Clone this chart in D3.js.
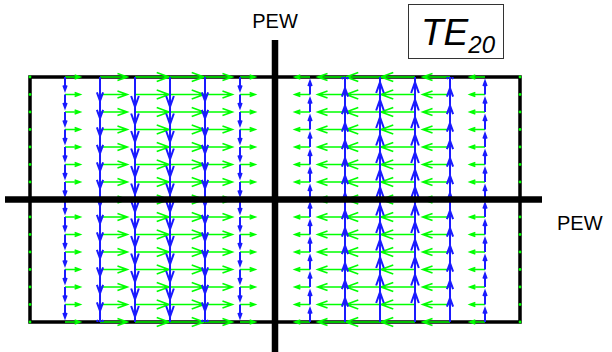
<!DOCTYPE html>
<html>
<head>
<meta charset="utf-8">
<script src="https://cdn.jsdelivr.net/npm/d3@7"></script>
<style>
  html, body { margin: 0; padding: 0; background: #fff; }
  svg { display: block; font-family: "Liberation Sans", Arial, sans-serif; }
</style>
</head>
<body>
<div id="chart"></div>
<script>
// sample grid across the guide (column index, row index)
const gridCols = [0, 1, 2, 3, 4, 5, 6, 7, 8, 9, 10, 11, 12, 13, 14];
const gridRows = [0, 1, 2, 3, 4, 5, 6, 7, 8, 9, 10, 11, 12, 13, 14];

// transverse H (x component) per column, normalised
const hxValues = [0, 0.43, 0.78, 0.97, 0.97, 0.78, 0.43, 0, -0.43, -0.78, -0.97, -0.97, -0.78, -0.43, 0];
// transverse E (y component) per column, normalised
const eyValues = [0, -0.43, -0.78, -0.97, -0.97, -0.78, -0.43, 0, 0.43, 0.78, 0.97, 0.97, 0.78, 0.43, 0];

const modeLabel = "TE";
const modeIndex = "20";
const wallLabel = "PEW";

const width = 612, height = 352;

const svg = d3.select("#chart").append("svg")
    .attr("width", width)
    .attr("height", height);

const x = d3.scaleLinear().domain([0, 14]).range([30, 520]);
const y = d3.scaleLinear().domain([0, 14]).range([322, 77]);

// quiver scale factors (data units per unit field)
const hScale = 1.0;
const eScale = 1.75;

// guide outline
svg.append("rect")
    .attr("x", x(0))
    .attr("y", y(14))
    .attr("width", x(14) - x(0))
    .attr("height", y(0) - y(14))
    .attr("fill", "none")
    .attr("stroke", "#000")
    .attr("stroke-width", 3.5);

svg.append("clipPath").attr("id", "plot-clip")
  .append("rect")
    .attr("x", x(0) - 3)
    .attr("y", y(14))
    .attr("width", x(14) - x(0) + 6)
    .attr("height", y(0) - y(14));

// build quiver arrows, matlab-style heads
function arrowPath(x0, y0, x1, y1) {
    const dx = x1 - x0, dy = y1 - y0;
    const a = 0.36, b = 0.36;
    const hx1 = x1 - a * (dx + b * dy), hy1 = y1 - a * (dy - b * dx);
    const hx2 = x1 - a * (dx - b * dy), hy2 = y1 - a * (dy + b * dx);
    return `M${x0},${y0}L${x1},${y1}M${hx1},${hy1}L${x1},${y1}L${hx2},${hy2}`;
}

const points = [];
gridCols.forEach((c, i) => {
    gridRows.forEach(r => {
        points.push({ c, r, hx: hxValues[i], ey: eyValues[i] });
    });
});

// H field (green)
const hg = svg.append("g");
hg.selectAll("path.h")
    .data(points.filter(d => d.hx !== 0))
    .enter()
    .append("path")
    .attr("class", "h")
    .attr("d", d => arrowPath(x(d.c), y(d.r), x(d.c + d.hx * hScale), y(d.r)))
    .attr("fill", "none")
    .attr("stroke", "#00ff00")
    .attr("stroke-width", 1.6);

hg.selectAll("circle.h0")
    .data(points.filter(d => d.hx === 0))
    .enter()
    .append("circle")
    .attr("cx", d => x(d.c))
    .attr("cy", d => y(d.r))
    .attr("r", 1.4)
    .attr("fill", "#00ff00");

// E field (blue)
svg.append("g")
    .attr("clip-path", "url(#plot-clip)")
  .selectAll("path.e")
    .data(points.filter(d => d.ey !== 0))
    .enter()
    .append("path")
    .attr("class", "e")
    .attr("d", d => arrowPath(x(d.c), y(d.r), x(d.c), y(d.r + d.ey * eScale)))
    .attr("fill", "none")
    .attr("stroke", "#1a1aff")
    .attr("stroke-width", 2);

// PEW symmetry walls
svg.append("line")
    .attr("x1", x(7)).attr("x2", x(7))
    .attr("y1", 40).attr("y2", height)
    .attr("stroke", "#000")
    .attr("stroke-width", 6.5);

svg.append("line")
    .attr("x1", 5).attr("x2", 542)
    .attr("y1", y(7)).attr("y2", y(7))
    .attr("stroke", "#000")
    .attr("stroke-width", 6.5);

svg.append("text")
    .attr("x", x(7))
    .attr("y", 28)
    .attr("text-anchor", "middle")
    .style("font-size", "20px")
    .text(wallLabel);

svg.append("text")
    .attr("x", 557)
    .attr("y", y(7) + 30)
    .style("font-size", "20px")
    .text(wallLabel);

// mode label box
svg.append("rect")
    .attr("x", 408.5).attr("y", 4.5)
    .attr("width", 95).attr("height", 54)
    .attr("fill", "#fff")
    .attr("stroke", "#333")
    .attr("stroke-width", 1);

const mode = svg.append("text")
    .attr("x", 421)
    .attr("y", 45)
    .style("font-style", "italic")
    .style("font-size", "37px");
mode.append("tspan").text(modeLabel);
mode.append("tspan")
    .attr("dy", 8)
    .style("font-size", "24px")
    .text(modeIndex);
</script>
</body>
</html>
